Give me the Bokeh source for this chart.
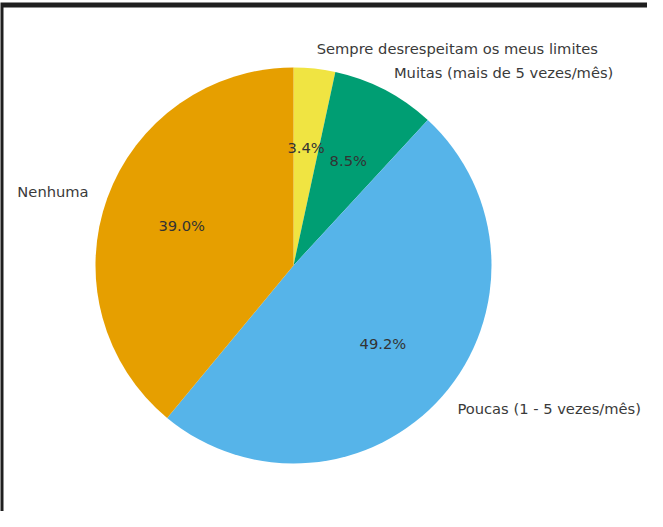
import numpy as np
from bokeh.plotting import figure
from bokeh.models import Range1d, ColumnDataSource
from bokeh.core.properties import value
from bokeh.embed import file_html
from bokeh.resources import INLINE

# data
categories = ["Sempre desrespeitam os meus limites", "Muitas (mais de 5 vezes/mês)",
              "Poucas (1 - 5 vezes/mês)", "Nenhuma"]
counts = [2, 5, 29, 23]
colors = ["#F0E442", "#009E73", "#56B4E9", "#E69F00"]

W, H = 647, 511
cx, cy = 293, 265          # pie centre in canvas pixels
R = 198

p = figure(width=W, height=H, output_backend="svg", toolbar_location=None,
           x_range=Range1d(-cx, W - cx), y_range=Range1d(-(H - cy), cy),
           min_border=0, outline_line_color=None, background_fill_color="white")
p.axis.visible = False
p.grid.visible = False

vals = np.array(counts, dtype=float)
frac = vals / vals.sum()
c1 = np.cumsum(frac)
c0 = c1 - frac
start = np.pi / 2 - 2 * np.pi * c1
end = np.pi / 2 - 2 * np.pi * c0
mid = (start + end) / 2

src = ColumnDataSource(dict(start=start, end=end, color=colors))
p.wedge(x=0, y=0, radius=R, start_angle="start", end_angle="end",
        direction="anticlock", fill_color="color", line_color=None, source=src)

lx = 1.1 * R * np.cos(mid)
ly = 1.1 * R * np.sin(mid)
align = ["left" if x > 0 else "right" for x in lx]
lsrc = ColumnDataSource(dict(x=lx, y=ly, t=categories, a=align))
p.text(x="x", y="y", text="t", text_align="a", text_baseline="middle",
       text_font=value("DejaVu Sans"), text_font_size="14.7px",
       text_color="#3a3a3a", source=lsrc)

px = 0.6 * R * np.cos(mid)
py = 0.6 * R * np.sin(mid)
pct = ["%.1f%%" % (f * 100) for f in frac]
psrc = ColumnDataSource(dict(x=px, y=py, t=pct))
p.text(x="x", y="y", text="t", text_align="center", text_baseline="middle",
       text_font=value("DejaVu Sans"), text_font_size="14.7px",
       text_color="#333333", source=psrc)

# frame border (partially visible)
left_x = 0.5 - cx
top_y = cy - 4.5
p.line(x=[left_x, left_x, W - cx + 10], y=[-(H - cy) - 10, top_y, top_y],
       line_color="#1f1f1f", line_width=5, line_join="miter")

open("out.html", "w").write(file_html(p, INLINE))
